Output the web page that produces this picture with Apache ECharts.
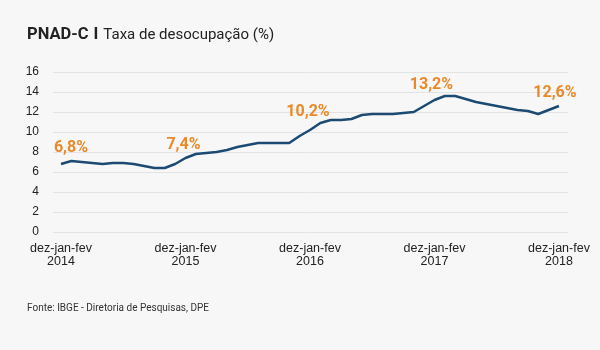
<!DOCTYPE html>
<html>
<head>
<meta charset="utf-8">
<script src="https://cdn.jsdelivr.net/npm/echarts@6/dist/echarts.min.js"></script>
<style>
  html, body { margin: 0; padding: 0; background: #f7f7f7; }
  #chart { width: 600px; height: 350px; }
</style>
</head>
<body>
<div id="chart"></div>
<script>
// Data
const periodLabels = ["dez-jan-fev\n2014", "dez-jan-fev\n2015", "dez-jan-fev\n2016", "dez-jan-fev\n2017", "dez-jan-fev\n2018"];
const labelIndices = [0, 12, 24, 36, 48];
const rate = [6.8, 7.1, 7.0, 6.9, 6.8, 6.9, 6.9, 6.8, 6.6, 6.4, 6.4, 6.8,
              7.4, 7.8, 7.9, 8.0, 8.2, 8.5, 8.7, 8.9, 8.9, 8.9, 8.9, 9.6,
              10.2, 10.9, 11.2, 11.2, 11.3, 11.7, 11.8, 11.8, 11.8, 11.9, 12.0, 12.6,
              13.2, 13.6, 13.6, 13.3, 13.0, 12.8, 12.6, 12.4, 12.2, 12.1, 11.8, 12.2,
              12.6];
const yTicks = [0, 2, 4, 6, 8, 10, 12, 14, 16];

// Label placement relative to the point (style)
const labelPositions = [[10, -16], [-2, -13], [-2, -18], [-3, -15], [-4, -13]];

const chart = echarts.init(document.getElementById('chart'), null, { renderer: 'canvas' });

const seriesData = rate.map((v, i) => {
  const k = labelIndices.indexOf(i);
  const item = { value: [i, v] };
  if (k >= 0) {
    item.label = {
      show: true,
      position: labelPositions[k],
      align: 'center',
      verticalAlign: 'middle',
      formatter: (p) => p.value[1].toFixed(1).replace('.', ',') + '%',
      color: '#e98a2a',
      fontFamily: 'Roboto',
      fontWeight: 'bold',
      fontSize: 16,
      lineHeight: 16
    };
  }
  return item;
});

const option = {
  backgroundColor: '#f7f7f7',
  animation: false,
  title: [{
    left: 22,
    top: 21,
    text: '{b|PNAD-C} {s|I} {r|Taxa de desocupação (%)}',
    textStyle: {
      rich: {
        b: { fontFamily: 'Roboto', fontWeight: 'bold', fontSize: 16.5, color: '#222' },
        s: { fontFamily: 'Roboto', fontWeight: 'bold', fontSize: 16.5, color: '#222' },
        r: { fontFamily: 'Roboto', fontWeight: 'normal', fontSize: 15, color: '#222' }
      }
    }
  }, {
    left: 22,
    top: 298,
    text: 'Fonte: IBGE - Diretoria de Pesquisas, DPE',
    textStyle: { fontFamily: 'Roboto', fontWeight: 'normal', fontSize: 10, color: '#333' }
  }],
  grid: { left: 53, right: 32, top: 72, bottom: 118 },
  xAxis: {
    type: 'value',
    min: -0.77,
    max: 48.87,
    axisLine: { show: false },
    axisTick: { show: false },
    splitLine: { show: false },
    axisLabel: {
      customValues: labelIndices,
      formatter: (v) => periodLabels[labelIndices.indexOf(Math.round(v))] || '',
      color: '#222',
      fontFamily: 'Liberation Sans',
      fontSize: 12.5,
      lineHeight: 13,
      margin: 10
    }
  },
  yAxis: {
    type: 'value',
    min: yTicks[0],
    max: yTicks[yTicks.length - 1],
    interval: 2,
    axisLine: { show: false },
    axisTick: { show: false },
    splitLine: { show: true, lineStyle: { color: '#e3e3e3', width: 1 } },
    axisLabel: { color: '#222', fontFamily: 'Liberation Sans', fontSize: 12, margin: 14 }
  },
  series: [{
    type: 'line',
    data: seriesData,
    showSymbol: true,
    symbol: 'circle',
    symbolSize: 0,
    lineStyle: { color: '#1c4a72', width: 2.5 },
    itemStyle: { color: '#1c4a72' },
    labelLayout: { hideOverlap: false },
    z: 3
  }]
};

chart.setOption(option);
</script>
</body>
</html>
